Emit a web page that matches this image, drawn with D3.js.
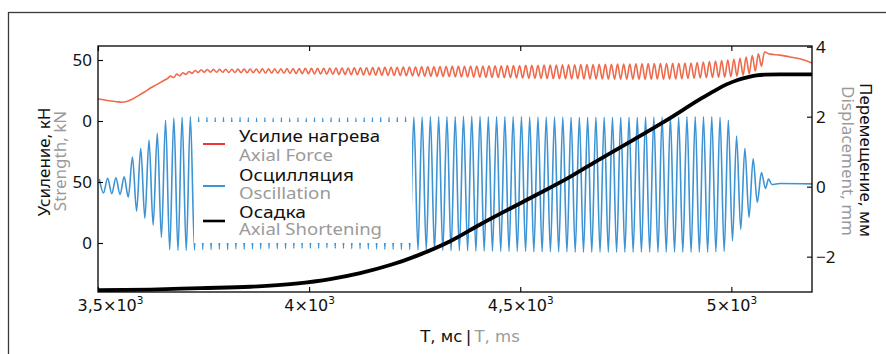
<!DOCTYPE html>
<html><head><meta charset="utf-8">
<script src="https://cdn.jsdelivr.net/npm/d3@7"></script>
<style>body{margin:0;background:#fff}svg{display:block}</style>
</head><body>
<svg id="c" width="886" height="354"></svg>
<script>
// ---------- axes / ticks ----------
const xTickValues = [3500, 4000, 4500, 5000];
const xTickMantissa = ["3,5", "4", "4,5", "5"];
const xTickExponent = "3";
const forceTickValues = [0, 50];      // upper band of left axis (kN)
const forceTickLabels = ["0", "50"];
const lowerTickValues = [0, 50];      // lower band of left axis
const lowerTickLabels = ["0", "50"];
const dispTickValues = [-2, 0, 2, 4]; // right axis (mm)

// ---------- legend ----------
const legendRu = ["Усилие нагрева", "Осцилляция", "Осадка"];
const legendEn = ["Axial Force", "Oscillation", "Axial Shortening"];

// ---------- Axial force (kN) ----------
const forcePreT = [3500, 3516, 3530, 3544, 3556, 3568, 3582, 3596, 3610, 3624, 3639, 3653, 3665];
const forcePreV = [18.0, 17.2, 16.4, 15.8, 15.4, 16.0, 18.0, 20.8, 23.8, 27.0, 29.8, 32.6, 35.0];
const forceOscT0 = 3672, forceOscStep = 7.25; // sampling of the extrema (ms)
const forceOscV = [
 36.8,35.6,38.4,37.0,39.6,38.2,40.6,39.0,41.4,39.8,
 42.0,40.0,42.2,40.0,42.3,39.9,42.3,39.9,42.4,39.8,
 42.4,39.7,42.5,39.6,42.5,39.5,42.6,39.5,42.6,39.4,
 42.7,39.3,42.7,39.3,42.8,39.2,42.8,39.1,42.9,39.0,
 42.9,38.9,43.0,38.8,43.1,38.7,43.1,38.6,43.2,38.5,
 43.2,38.4,43.3,38.3,43.4,38.2,43.4,38.1,43.5,38.0,
 43.6,37.9,43.7,37.8,43.7,37.7,43.8,37.6,43.9,37.5,
 44.0,37.4,44.0,37.3,44.1,37.2,44.2,37.1,44.3,37.0,
 44.3,36.9,44.4,36.8,44.5,36.7,44.5,36.6,44.6,36.5,
 44.7,36.4,44.8,36.3,44.8,36.2,44.9,36.1,45.0,36.0,
 45.0,35.9,45.1,35.8,45.2,35.7,45.2,35.6,45.3,35.5,
 45.4,35.4,45.4,35.3,45.5,35.2,45.6,35.1,45.6,35.0,
 45.7,34.9,45.8,34.8,45.8,34.8,45.9,34.7,46.0,34.7,
 46.0,34.6,46.1,34.6,46.2,34.5,46.2,34.5,46.3,34.4,
 46.4,34.4,46.4,34.3,46.5,34.3,46.6,34.3,46.6,34.2,
 46.7,34.2,46.8,34.2,46.9,34.2,47.0,34.3,47.1,34.4,
 47.0,34.3,47.1,34.4,47.2,34.5,47.3,34.6,47.4,34.8,
 47.6,35.0,48.0,35.2,48.4,35.4,48.8,35.6,49.2,35.8,
 49.6,36.0,50.0,36.3,50.6,36.8,51.4,37.6,52.4,38.8,
 53.6,41.0,55.0,45.0,56.5];
const forceTailT = [5091, 5115, 5139, 5162, 5191];
const forceTailV = [54.8, 54.0, 52.5, 51.0, 47.5];

// ---------- Oscillation (mm) ----------
const oscT0 = 3503.2, oscStep = 9.8; // sampling of the extrema (ms)
const oscV = [
 0.22,-0.18,0.24,-0.2,0.25,-0.22,0.28,-0.3,0.85,-0.7,
 1.1,-0.9,1.33,-1.1,1.53,-1.45,1.9,-1.8,1.96,-1.82,
 1.98,-1.82,2.0,-1.81,1.99,-1.8,1.98,-1.8,1.97,-1.79,
 1.98,-1.8,1.97,-1.78,1.98,-1.79,1.97,-1.78,1.96,-1.78,
 1.97,-1.77,1.96,-1.77,1.97,-1.77,1.96,-1.76,1.97,-1.76,
 1.96,-1.76,1.97,-1.76,1.96,-1.75,1.97,-1.76,1.96,-1.76,
 1.97,-1.77,1.96,-1.77,1.97,-1.78,1.97,-1.78,1.98,-1.79,
 1.98,-1.79,1.98,-1.8,1.99,-1.8,1.99,-1.81,1.99,-1.81,
 2.0,-1.82,2.0,-1.82,2.0,-1.83,2.0,-1.83,2.01,-1.83,
 2.01,-1.84,2.01,-1.84,2.0,-1.84,2.0,-1.85,2.0,-1.85,
 2.0,-1.85,2.0,-1.85,1.99,-1.86,1.99,-1.86,1.99,-1.86,
 1.99,-1.86,1.99,-1.86,1.98,-1.87,1.98,-1.87,1.98,-1.87,
 1.98,-1.87,1.98,-1.87,1.98,-1.87,1.98,-1.87,1.98,-1.87,
 1.98,-1.87,1.99,-1.87,1.99,-1.87,1.99,-1.87,1.99,-1.87,
 1.99,-1.87,2.0,-1.87,2.0,-1.87,2.0,-1.87,2.0,-1.86,
 1.98,-1.85,1.9,-1.55,1.45,-1.22,1.1,-0.88,0.8,-0.45,
 0.4,-0.05];
const oscTailT = [5088, 5096, 5115, 5191];
const oscTailV = [0.22, 0.06, 0.09, 0.08];

// ---------- Axial shortening (mm) ----------
const shortT = [3500, 3624, 3743, 3861, 3968, 4050, 4121, 4192, 4256, 4334, 4405, 4523, 4618, 4689, 4768, 4848, 4926, 4960, 4990, 5015, 5040, 5060, 5080, 5115, 5191];
const shortV = [-2.96, -2.94, -2.9, -2.86, -2.77, -2.64, -2.47, -2.24, -1.97, -1.56, -1.08, -0.33, 0.28, 0.79, 1.34, 1.91, 2.5, 2.74, 2.93, 3.05, 3.13, 3.18, 3.2, 3.21, 3.21];

// ---------- build ----------
const forceData = forcePreT.map((t,i)=>[t,forcePreV[i]])
  .concat(forceOscV.map((v,i)=>[forceOscT0 + i*forceOscStep, v]))
  .concat(forceTailT.map((t,i)=>[t,forceTailV[i]]));
const oscData = oscV.map((v,i)=>[oscT0 + i*oscStep, v])
  .concat(oscTailT.map((t,i)=>[t,oscTailV[i]]));
const shortData = shortT.map((t,i)=>[t,shortV[i]]);

const L = 98, R = 812, T = 46, B = 292;
const svg = d3.select("#c");
const x = d3.scaleLinear().domain([3500, 5191]).range([L, R]);
const yR = d3.scaleLinear().domain([-3.01, 4.02]).range([B, T]);
const yForce = d3.scaleLinear().domain([0, 50]).range([121, 60]);
const yLower = d3.scaleLinear().domain([0, 50]).range([243, 182]);

const NUM = "'Noto Sans', sans-serif";
const DV = "'DejaVu Sans', sans-serif";

// outer frame
svg.append("rect").attr("x",8.5).attr("y",12.5).attr("width",900).attr("height",400)
  .attr("fill","none").attr("stroke","#3a3a3a").attr("stroke-width",1.3);

svg.append("clipPath").attr("id","clip").append("rect")
  .attr("x",L).attr("y",T).attr("width",R-L).attr("height",B-T);
const plot = svg.append("g").attr("clip-path","url(#clip)");

const lineOsc = d3.line().x(d=>x(d[0])).y(d=>yR(d[1])).curve(d3.curveMonotoneX);
const lineForce = d3.line().x(d=>x(d[0])).y(d=>yForce(d[1])).curve(d3.curveMonotoneX);

plot.append("path").datum(oscData).attr("d",lineOsc)
  .attr("fill","none").attr("stroke","#3d93d3").attr("stroke-width",1.6);
plot.append("path").datum(forceData).attr("d",lineForce)
  .attr("fill","none").attr("stroke","#ef6a4c").attr("stroke-width",1.6);
plot.append("path").datum(shortData).attr("d",lineOsc)
  .attr("fill","none").attr("stroke","#000").attr("stroke-width",3.8);

// plot frame
svg.append("rect").attr("x",L).attr("y",T).attr("width",R-L).attr("height",B-T)
  .attr("fill","none").attr("stroke","#000").attr("stroke-width",1.3);

function styleAxis(g, font, size){
  g.select(".domain").remove();
  g.selectAll(".tick line").attr("stroke","#000").attr("stroke-width",1.1);
  g.selectAll(".tick text").attr("fill","#111").attr("font-family",font).attr("font-size",size);
}

// bottom axis
const gx = svg.append("g").attr("transform",`translate(0,${B})`)
  .call(d3.axisBottom(x).tickValues(xTickValues).tickSizeInner(-5).tickSizeOuter(0).tickPadding(8));
styleAxis(gx, DV, 16);
gx.selectAll(".tick text").each(function(d,i){
  const t = d3.select(this);
  t.text(null);
  t.append("tspan").text(xTickMantissa[i] + "×10");
  t.append("tspan").attr("dy",-7).attr("font-size",10.5).text(xTickExponent);
  if (i === 0) t.attr("dx", 12);
});
// top mirror ticks
const gxt = svg.append("g").attr("transform",`translate(0,${T})`)
  .call(d3.axisTop(x).tickValues(xTickValues).tickSizeInner(-5).tickSizeOuter(0).tickFormat(""));
styleAxis(gxt, DV, 16);

// left axis (two bands)
const gl1 = svg.append("g").attr("transform",`translate(${L},0)`)
  .call(d3.axisLeft(yForce).tickValues(forceTickValues).tickSizeInner(-5).tickSizeOuter(0).tickPadding(6)
    .tickFormat((d,i)=>forceTickLabels[i]));
styleAxis(gl1, NUM, 17);
const gl2 = svg.append("g").attr("transform",`translate(${L},0)`)
  .call(d3.axisLeft(yLower).tickValues(lowerTickValues).tickSizeInner(-5).tickSizeOuter(0).tickPadding(6)
    .tickFormat((d,i)=>lowerTickLabels[i]));
styleAxis(gl2, NUM, 17);

// right axis
const gr = svg.append("g").attr("transform",`translate(${R},0)`)
  .call(d3.axisRight(yR).tickValues(dispTickValues).tickSizeInner(-5).tickSizeOuter(0).tickPadding(4)
    .tickFormat(d => d < 0 ? "\u2212" + Math.abs(d) : String(d)));
styleAxis(gr, NUM, 17);

// axis titles
svg.append("text").attr("transform","translate(50,162) rotate(-90)").attr("text-anchor","middle")
  .attr("font-family",NUM).attr("font-size",17).attr("fill","#111").text("Усиление, кН");
svg.append("text").attr("transform","translate(66,161) rotate(-90)").attr("text-anchor","middle")
  .attr("font-family",NUM).attr("font-size",17).attr("fill","#9a9a9a").text("Strength, kN");
svg.append("text").attr("transform","translate(860,160) rotate(90)").attr("text-anchor","middle")
  .attr("font-family",NUM).attr("font-size",17).attr("fill","#111").text("Перемещение, мм");
svg.append("text").attr("transform","translate(842,161) rotate(90)").attr("text-anchor","middle")
  .attr("font-family",NUM).attr("font-size",17).attr("fill","#9a9a9a").text("Displacement, mm");

const xt = svg.append("text").attr("x",470).attr("y",342).attr("text-anchor","middle")
  .attr("font-family",DV).attr("font-size",16.5);
xt.append("tspan").attr("fill","#111").text("T, мс\u2009|\u2009");
xt.append("tspan").attr("fill","#9a9a9a").text("T, ms");

// legend
const lg = svg.append("g");
lg.append("rect").attr("x",194).attr("y",122).attr("width",218).attr("height",121).attr("fill","#fff");
const swatchColors = ["#ee3535", "#3a96d8", "#000"];
const swatchY = [144, 186, 221];
const ruBase = [142, 181, 218];
const enBase = [161, 198.5, 235];
const ruLen = [141, 115, 67];
const enLen = [94, 92, 143];
legendRu.forEach((s,i)=>{
  lg.append("line").attr("x1",203).attr("x2",225).attr("y1",swatchY[i]).attr("y2",swatchY[i])
    .attr("stroke",swatchColors[i]).attr("stroke-width", i===2 ? 2.6 : 2);
  lg.append("text").attr("x",239).attr("y",ruBase[i]).attr("font-family",NUM).attr("font-size",16.5)
    .attr("textLength",ruLen[i]).attr("lengthAdjust","spacingAndGlyphs")
    .attr("fill","#111").text(s);
  lg.append("text").attr("x",239).attr("y",enBase[i]).attr("font-family",NUM).attr("font-size",16.5)
    .attr("textLength",enLen[i]).attr("lengthAdjust","spacingAndGlyphs")
    .attr("fill","#9a9a9a").text(legendEn[i]);
});
</script>
</body></html>
